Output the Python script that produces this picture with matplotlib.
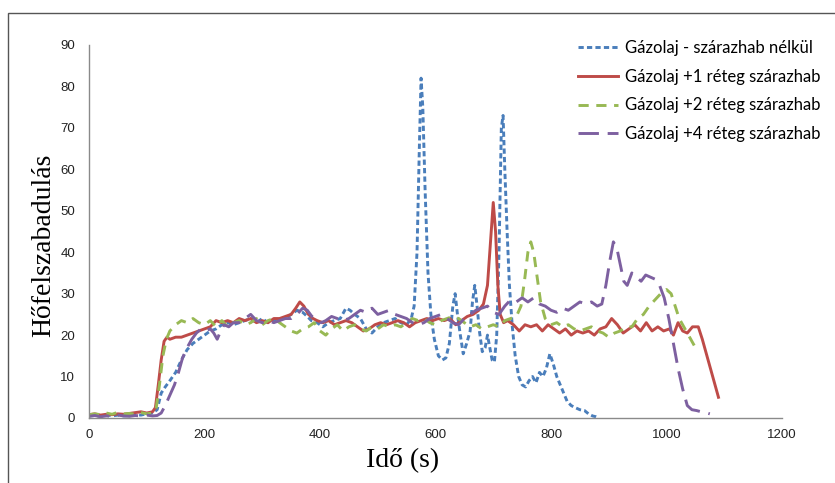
import numpy as np
import matplotlib
matplotlib.use('Agg')
import matplotlib.pyplot as plt
from matplotlib.patches import Rectangle

# (time s, value)
blue_pts = [(0,0.5),(10,0.6),(20,0.4),(30,0.8),(40,0.5),(50,0.7),(60,0.5),(70,0.6),(80,0.8),(90,0.7),
            (100,1.0),(110,1.2),(118,2),(125,6),(132,7.5),(140,9),(150,11),(160,14),(170,16.5),(180,18),
            (190,19),(200,20),(210,21),(220,21.5),(230,22.5),(240,23),(250,22.5),(260,23),(270,23.5),(280,24),
            (290,23),(300,24),(310,23),(320,23.5),(330,24),(340,24),(350,25),(360,26),(370,25.5),(378,24.5),
            (385,23.5),(395,23),(405,22),(415,23),(425,23.5),(435,24),(445,26.5),(452,26),(460,25),(470,24),
            (480,21.5),(490,20.5),(500,22),(510,23),(520,23.5),(530,24),(540,23),(550,22.5),(558,24),(563,27),
            (568,40),(572,65),(575,82),(578,75),(582,55),(587,35),(592,25),(598,19),(605,15),(612,14),
            (618,14.5),(624,18),(630,27),(634,30),(638,25),(643,20),(648,15.5),(654,18),(660,21),(664,28),
            (668,32),(672,27),(676,21),(681,16),(686,17),(690,20),(694,17),(698,14),(702,13.5),(706,20),
            (710,40),(714,70),(717,73),(720,60),(724,45),(728,32),(733,22),(738,15),(744,10),(750,8),
            (756,7.5),(762,9),(768,10),(774,8.5),(780,11),(786,10),(792,12),(798,15.5),(804,13),(810,10),
            (816,8),(822,6),(828,4),(835,3),(842,2.5),(850,2),(858,1.8),(865,1),(872,0.5),(878,0.3),(883,0)]

red_pts = [(0,0.8),(10,1.0),(20,0.7),(30,0.9),(40,0.8),(50,1.0),(60,0.9),(70,1.1),(80,1.3),(90,1.5),
           (100,1.2),(110,1.5),(115,2.5),(120,8),(125,14),(130,18.5),(135,19.5),(140,19),(150,19.5),(160,19.5),
           (170,20),(180,20.5),(190,21),(200,21.5),(210,22),(220,23.5),(230,23),(240,23.5),(250,23),(260,24),
           (270,23.5),(280,24),(290,23),(300,23.5),(310,23),(320,24),(330,24),(340,24.5),(350,25),(358,26.5),
           (365,28),(372,27),(380,25),(388,24),(395,23.5),(405,23),(415,23.5),(425,22.5),(435,23),(445,23.5),
           (455,23),(465,22),(475,21),(485,21.5),(495,22.5),(505,23),(515,22.5),(525,23),(535,23.5),(545,23),
           (555,22),(565,23),(575,23.5),(585,24),(595,23.5),(605,24),(615,23.5),(625,24),(635,22.5),(645,23.5),
           (655,24.5),(665,25),(675,26),(683,27.5),(690,32),(695,42),(700,52),(704,45),(708,32),(712,25),
           (718,23),(725,23.5),(735,22.5),(745,21),(755,22.5),(765,22),(775,22.5),(785,21),(795,22.5),(805,21.5),
           (815,20.5),(825,21.5),(835,20),(845,21),(855,20.5),(865,21),(875,20),(885,21.5),(895,22),(905,24),
           (915,22.5),(925,20.5),(935,21.5),(945,22.5),(955,21),(965,23),(975,21),(985,22),(995,21),(1005,21.5),
           (1012,20),(1020,23),(1028,21),(1036,20.5),(1045,22),(1055,22),(1062,19),(1070,15),(1080,10),(1090,5)]

green_pts = [(0,0.8),(10,1.0),(20,0.8),(30,1.2),(40,0.9),(50,1.4),(60,1.0),(70,1.1),(80,0.9),(90,1.3),
             (100,1.0),(110,1.2),(116,2),(122,8),(128,15),(134,19),(140,21),(150,22.5),(160,23.5),(170,23),
             (180,24),(190,23),(200,22.5),(210,23.5),(220,22),(230,23.5),(240,22),(250,23),(260,23.5),(270,22.5),
             (280,23),(290,24),(300,22.5),(310,23.5),(320,24),(330,23),(340,22),(350,21),(360,20.5),(370,21.5),
             (380,22),(390,23),(400,21),(410,20),(420,21.5),(430,22.5),(440,21),(450,22),(460,22.5),(470,21.5),
             (480,21),(490,22),(500,21.5),(510,22.5),(520,22),(530,22.5),(540,22),(550,23),(560,24),(570,23.5),
             (580,24),(590,23),(600,22.5),(610,23.5),(620,24),(630,24.5),(640,24),(650,23),(660,22),(670,22.5),
             (680,21.5),(690,22),(700,22.5),(710,22),(720,23.5),(730,24),(740,24.5),(748,27),(754,33),(760,40),
             (765,42.5),(770,40),(776,34),(782,28),(790,24),(800,22.5),(810,23),(820,22),(830,22.5),(840,21.5),
             (850,21),(860,21.5),(870,22),(880,21),(890,20.5),(900,19.5),(910,20.5),(920,21),(930,22),(940,22),
             (950,24),(960,25),(970,27),(980,28.5),(990,30),(1000,31),(1008,30),(1015,27),(1022,24),(1030,22),
             (1038,20),(1046,18),(1052,16.5)]

purple_pts = [(0,0.4),(10,0.6),(20,0.3),(30,0.5),(40,0.4),(50,0.7),(60,0.5),(70,0.4),(80,0.6),(90,0.5),
              (100,0.7),(110,0.5),(118,0.6),(125,1.2),(132,3),(140,5.5),(148,8),(155,11),(162,14.5),(170,17),
              (178,19),(186,20.5),(194,21.5),(202,21),(210,21.5),(216,20.5),(222,19),(228,21),(234,22.5),(242,22),
              (250,23),(260,23),(270,24),(280,25),(290,23.5),(300,23),(310,23.5),(320,23),(330,23.5),(340,24),
              (350,24),(360,25),(370,26.5),(378,26),(386,24.5),(394,24),(402,23),(410,23.5),(420,24.5),(430,24),
              (440,23.5),(450,24),(460,25),(470,26),(480,25.5),(490,26.5),(500,25),(510,25.5),(520,26),(530,25),
              (540,24.5),(550,24),(560,23),(570,22.5),(580,23),(590,24),(600,24.5),(610,25),(620,24),(630,23),
              (640,22.5),(650,24),(660,25),(670,26),(680,26.5),(690,27),(700,25.5),(710,25),(720,27),(730,28.5),
              (740,28),(750,29),(760,28),(770,29),(780,27.5),(790,27),(800,26),(810,25.5),(820,26.5),(830,26),
              (840,27),(850,28),(860,27.5),(870,28),(880,27),(888,27.5),(895,32),(902,38),(908,42.5),(914,41),
              (920,37),(926,33),(932,32),(940,35),(948,34),(956,33),(964,34.5),(972,34),(980,33.5),(988,32),
              (996,29),(1004,24),(1012,18),(1020,12),(1028,7),(1036,3),(1044,2),(1052,1.8),(1060,1.5),(1068,1.3),
              (1075,1.0)]

labels = ['Gázolaj - szárazhab nélkül', 'Gázolaj +1 réteg szárazhab',
          'Gázolaj +2 réteg szárazhab', 'Gázolaj +4 réteg szárazhab']
colors = ['#4A7EBB', '#BE4B48', '#98B954', '#7D60A0']

x_ticks = [0, 200, 400, 600, 800, 1000, 1200]
y_ticks = [0, 10, 20, 30, 40, 50, 60, 70, 80, 90]

fig = plt.figure(figsize=(8.35, 4.83), dpi=100)
ax = fig.add_axes([89/835, 1-418/483, (782-89)/835, (418-45)/483])

# outer chart frame
fig.patches.append(Rectangle((8/835, -0.1), 1.2, 1.1 - 13/483, transform=fig.transFigure,
                             fill=False, edgecolor='#555555', linewidth=1.0))

series = [blue_pts, red_pts, green_pts, purple_pts]
dashes = [(1.8, 1.1), None, (3.5, 2.6), (7, 3)]
for pts, lab, col, ds in zip(series, labels, colors, dashes):
    arr = np.array(pts, dtype=float)
    if ds is None:
        ax.plot(arr[:, 0], arr[:, 1], color=col, lw=2.1, label=lab)
    else:
        ax.plot(arr[:, 0], arr[:, 1], color=col, lw=2.1, label=lab, dashes=ds)

ax.set_xlim(0, 1200)
ax.set_ylim(0, 90)
ax.set_xticks(x_ticks)
ax.set_yticks(y_ticks)
for s in ['top', 'right']:
    ax.spines[s].set_visible(False)
for s in ['left', 'bottom']:
    ax.spines[s].set_color('#8a8a8a')
    ax.spines[s].set_linewidth(1.0)
ax.tick_params(axis='both', length=0, labelsize=9.5, colors='#222222')
ax.tick_params(axis='x', pad=8)
ax.tick_params(axis='y', pad=10)
for t in ax.get_xticklabels() + ax.get_yticklabels():
    t.set_family('Liberation Sans')

ax.set_xlabel('Idő (s)', family='Liberation Serif', fontsize=20)
ax.set_ylabel('Hőfelszabadulás', family='Liberation Serif', fontsize=20)
ax.xaxis.set_label_coords((403-89)/693, (418-448)/373)
ax.yaxis.set_label_coords((56-89)/693, (418-245)/373)

leg = ax.legend(loc='upper left', bbox_to_anchor=(578/835, 1-40/483), bbox_transform=fig.transFigure,
                frameon=False, prop={'family': 'Lato', 'size': 12}, handlelength=2.4,
                handletextpad=0.42, labelspacing=0.76, borderpad=0, borderaxespad=0)

fig.savefig('out.png', dpi=100)
